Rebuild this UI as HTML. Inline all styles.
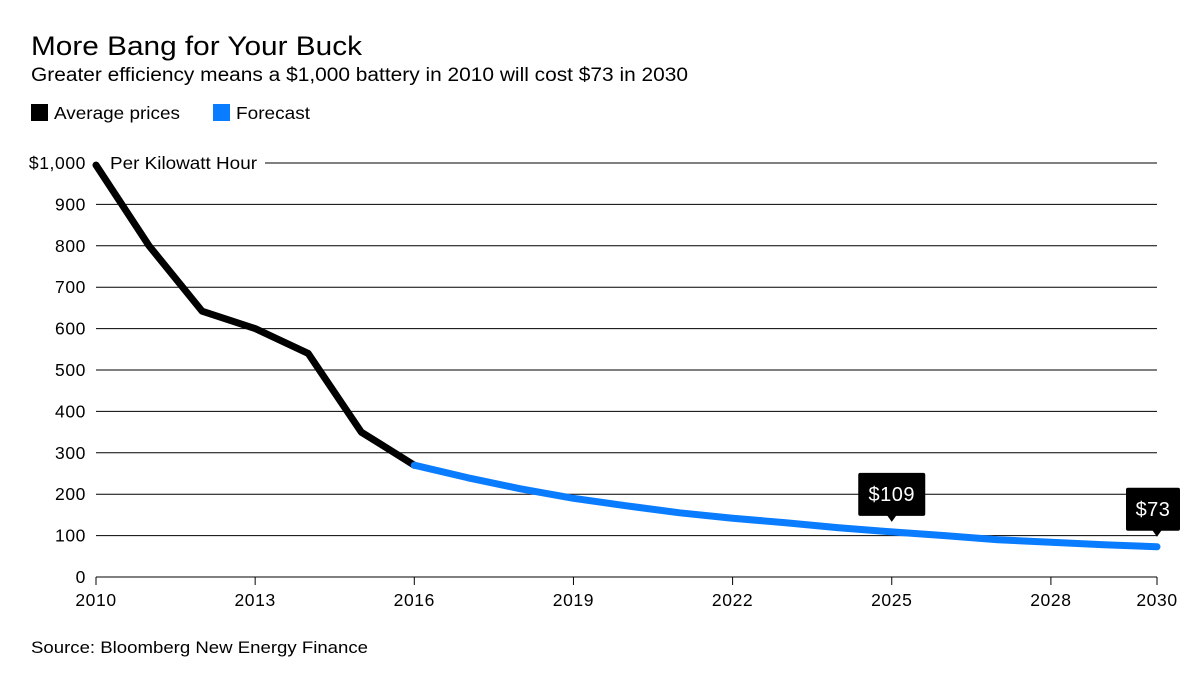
<!DOCTYPE html>
<html><head><meta charset="utf-8"><style>
body{margin:0;background:#fff;font-family:"Liberation Sans",sans-serif;}
svg text{font-family:"Liberation Sans",sans-serif;}
</style></head><body>
<svg id="c" width="1200" height="691">
<text x="31" y="55" font-size="27" textLength="331" lengthAdjust="spacingAndGlyphs" fill="#000">More Bang for Your Buck</text>
<text x="31" y="81" font-size="19" textLength="657" lengthAdjust="spacingAndGlyphs" fill="#000">Greater efficiency means a $1,000 battery in 2010 will cost $73 in 2030</text>
<g><rect x="31" y="104" width="17" height="17" fill="#000"/><text x="54" y="119" font-size="17.5" textLength="126" lengthAdjust="spacingAndGlyphs">Average prices</text></g>
<g><rect x="213" y="104" width="17" height="17" fill="#0a7cff"/><text x="236" y="119" font-size="17.5" textLength="74" lengthAdjust="spacingAndGlyphs">Forecast</text></g>
<g id="grid"></g><g id="lines"></g><g id="ann"></g>
<text x="31" y="653" font-size="17" textLength="337" lengthAdjust="spacingAndGlyphs">Source: Bloomberg New Energy Finance</text>
</svg>
<script>
const yTicks=[0,100,200,300,400,500,600,700,800,900,1000];
const yLabels=["0","100","200","300","400","500","600","700","800","900","$1,000"];
const xTicks=[2010,2013,2016,2019,2022,2025,2028,2030];
const histYears=[2010,2011,2012,2013,2014,2015,2016];
const histValues=[995,800,642,600,540,350,270];
const fcYears=[2016,2017,2018,2019,2020,2021,2022,2023,2024,2025,2026,2027,2028,2029,2030];
const fcValues=[270,240,213,190,172,155,142,131,119,109,100,90,84,78,73];
const callouts=[[2025,109,"$109"],[2030,73,"$73"]];
const NS="http://www.w3.org/2000/svg";
const X=y=>96+(y-2010)*(1157-96)/20;
const Y=v=>577-v*0.414;
function mk(t,a,p){const e=document.createElementNS(NS,t);for(const k in a)e.setAttribute(k,a[k]);p.appendChild(e);return e;}
const g=document.getElementById('grid');
yTicks.forEach((v,i)=>{
 const x1=v===1000?265:96;
 const l=mk('line',{x1:x1,x2:1157,y1:Y(v),y2:Y(v),stroke:'#000','stroke-width':1},g);
 
 
 const t=mk('text',{x:86,y:Y(v)+6,'font-size':17.5,'text-anchor':'end','letter-spacing':0.6},g);t.textContent=yLabels[i];
 
 
});
const u=mk('text',{x:110,y:Y(1000)+6,'font-size':17.5,textLength:147,lengthAdjust:'spacingAndGlyphs'},g);u.textContent='Per Kilowatt Hour';


xTicks.forEach(yr=>{
 mk('line',{x1:X(yr),x2:X(yr),y1:577,y2:585,stroke:'#000'},g);
 const t=mk('text',{x:X(yr),y:606,'font-size':17.5,'text-anchor':'middle','letter-spacing':0.6},g);t.textContent=yr;
 
 
});
const L=document.getElementById('lines');
const p1=mk('polyline',{points:histYears.map((y,i)=>X(y)+','+Y(histValues[i])).join(' '),fill:'none',stroke:'#000','stroke-width':7,'stroke-linejoin':'round','stroke-linecap':'round'},L);


const p2=mk('polyline',{points:fcYears.map((y,i)=>X(y)+','+Y(fcValues[i])).join(' '),fill:'none',stroke:'#0a7cff','stroke-width':7,'stroke-linejoin':'round','stroke-linecap':'round'},L);


const A=document.getElementById('ann');
callouts.forEach(([yr,v,lab])=>{
 const cx=X(yr),cy=Y(v)-8;
 const w=lab.length*13+15;
 const bx=Math.min(cx-w/2,1180-w);
 const grp=mk('g',{},A);
 
 
 mk('rect',{x:bx,y:cy-51,width:w,height:43,rx:2,fill:'#000'},grp);
 mk('polygon',{points:(cx-5)+','+(cy-9)+' '+(cx+5)+','+(cy-9)+' '+cx+','+(cy-2)},grp);
 const t=mk('text',{x:bx+w/2,y:cy-23,'font-size':20,fill:'#fff','text-anchor':'middle','letter-spacing':0.5},grp);t.textContent=lab;
});
</script>
</body></html>
